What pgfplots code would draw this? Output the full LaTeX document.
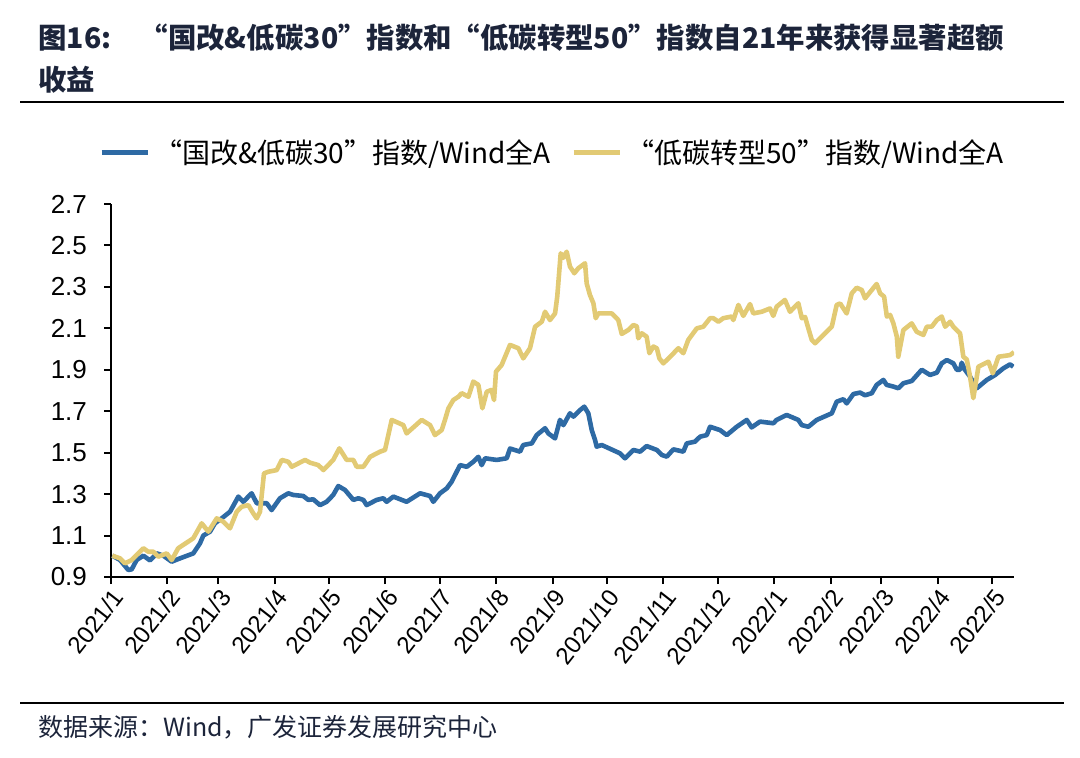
\documentclass[border=0pt]{standalone}
\usepackage{pgfplots}
\pgfplotsset{compat=1.18}
\usepackage{fontspec}
\setmainfont{Liberation Sans}
\newfontfamily\cjk{Noto Sans CJK SC}
\definecolor{seriesblue}{RGB}{46,106,164}
\definecolor{seriesgold}{RGB}{226,202,116}
\definecolor{titlenavy}{RGB}{28,36,58}

\begin{document}
\begin{tikzpicture}
\path[use as bounding box] (0,0) rectangle (540pt,378.5pt);
% title and rules
\node[anchor=west, inner sep=0, text=titlenavy, font=\cjk\bfseries\fontsize{14.2}{16}\selectfont] at (19pt,359.5pt)
  {图16:\hspace{1em}“国改\&低碳30”指数和“低碳转型50”指数自21年来获得显著超额};
\node[anchor=west, inner sep=0, text=titlenavy, font=\cjk\bfseries\fontsize{14.2}{16}\selectfont] at (19pt,338.5pt) {收益};
\draw[line width=1pt] (10pt,327.3pt) -- (532pt,327.3pt);
\draw[line width=1pt] (10pt,27pt) -- (532pt,27pt);
\node[anchor=west, inner sep=0, text=titlenavy, font=\cjk\fontsize{12.5}{14}\selectfont] at (19pt,15pt)
  {数据来源：Wind，广发证券发展研究中心};

\begin{axis}[
    at={(55.5pt,90pt)}, anchor=south west,
    scale only axis, width=451.5pt, height=186.5pt,
    xmin=0, xmax=497, ymin=0.9, ymax=2.7,
    axis x line*=bottom, axis y line*=left,
    axis line style={line width=1pt, -},
    tick align=outside, major tick length=3.5pt,
    tick style={line width=1pt, black},
    ytick={0.9,1.1,1.3,1.5,1.7,1.9,2.1,2.3,2.5,2.7},
    yticklabel style={/pgf/number format/fixed, /pgf/number format/fixed zerofill,
        /pgf/number format/precision=1, xshift=-5pt, font=\fontsize{13}{15}\selectfont},
    /pgf/number format/assume math mode=true,
    xtick={0,31,59,90,120,151,181,212,243,273,304,334,365,396,424,455,485},
    xticklabels={2021/1,2021/2,2021/3,2021/4,2021/5,2021/6,2021/7,2021/8,2021/9,2021/10,2021/11,2021/12,2022/1,2022/2,2022/3,2022/4,2022/5},
    xticklabel style={rotate=52, anchor=north east, inner sep=1pt, font=\fontsize{12}{14}\selectfont},
    legend style={at={(rel axis cs:0.49,1.137)}, anchor=center, draw=none, fill=none,
        legend columns=2, font=\cjk\fontsize{14}{16}\selectfont,
        /tikz/every even column/.append style={column sep=8pt}},
    legend image code/.code={\draw[#1, line width=2.5pt] (0pt,0pt) -- (23pt,0pt);},
]

\addplot[seriesblue, line width=2.3pt, line join=round, no markers] coordinates {
(0.7,1.003)(5.0,0.982)(9.5,0.934)(11.4,0.937)(14.1,0.982)(17.8,1.003)(21.5,0.980)(25.2,1.014)
(28.8,1.003)(33.4,0.974)(38.0,0.990)(45.3,1.014)(49.0,1.063)(50.8,1.100)(54.5,1.119)(57.2,1.159)
(60.9,1.183)(65.5,1.215)(70.1,1.288)(72.8,1.263)(77.4,1.304)(80.2,1.256)(85.7,1.256)(88.4,1.223)
(93.0,1.280)(97.6,1.304)(100.3,1.296)(105.8,1.291)(108.6,1.272)(111.3,1.275)(115.0,1.247)(118.7,1.263)
(122.3,1.296)(125.1,1.339)(128.8,1.320)(133.4,1.272)(136.1,1.280)(138.9,1.272)(140.7,1.247)(146.2,1.272)
(149.9,1.280)(151.7,1.263)(155.4,1.288)(162.7,1.263)(170.1,1.304)(175.6,1.291)(177.4,1.263)(181.1,1.304)
(184.8,1.328)(187.5,1.360)(192.1,1.440)(195.8,1.432)(199.4,1.456)(202.2,1.480)(204.0,1.440)(205.9,1.473)
(212.3,1.465)(217.8,1.473)(219.6,1.520)(225.1,1.505)(226.9,1.537)(231.6,1.545)(234.3,1.585)(238.9,1.618)
(240.7,1.593)(244.4,1.569)(247.1,1.658)(249.0,1.633)(252.6,1.690)(254.5,1.674)(258.2,1.706)(260.5,1.722)
(262.7,1.690)(264.6,1.609)(266.4,1.561)(267.3,1.529)(270.1,1.537)(280.1,1.497)(282.9,1.473)(287.5,1.513)
(291.2,1.505)(294.8,1.532)(300.4,1.513)(303.1,1.489)(305.9,1.481)(309.5,1.516)(315.0,1.505)(316.9,1.545)
(321.4,1.553)(324.2,1.577)(327.9,1.585)(329.7,1.625)(335.2,1.609)(338.9,1.585)(344.4,1.625)(349.9,1.658)
(352.6,1.622)(357.2,1.650)(364.5,1.642)(366.3,1.658)(371.9,1.682)(378.3,1.658)(380.2,1.633)(383.8,1.625)
(388.4,1.658)(396.7,1.690)(399.4,1.746)(403.1,1.758)(404.9,1.738)(408.6,1.783)(412.3,1.790)(415.0,1.777)
(418.7,1.787)(421.4,1.827)(425.1,1.851)(426.9,1.827)(430.6,1.819)(433.3,1.811)(436.1,1.835)(440.7,1.846)
(446.2,1.900)(450.8,1.875)(454.5,1.886)(457.2,1.931)(460.0,1.947)(463.6,1.931)(465.5,1.900)(467.3,1.900)
(468.2,1.934)(470.0,1.900)(472.8,1.867)(476.5,1.811)(482.0,1.851)(486.6,1.875)(491.1,1.907)(494.8,1.926)
(496.6,1.915)
};
\addlegendentry{“国改\&低碳30”指数/Wind全A}

\addplot[seriesgold, line width=2.3pt, line join=round, no markers] coordinates {
(0.7,1.003)(5.0,0.990)(7.7,0.966)(11.4,0.982)(17.8,1.039)(20.5,1.022)(23.3,1.022)(26.0,0.998)
(30.7,1.014)(33.4,0.982)(37.0,1.039)(45.3,1.087)(49.9,1.159)(53.6,1.119)(58.2,1.183)(61.8,1.167)
(65.5,1.135)(69.2,1.215)(71.9,1.239)(75.6,1.247)(78.3,1.207)(80.2,1.183)(82.0,1.215)(84.2,1.400)
(86.6,1.408)(91.2,1.416)(94.0,1.465)(97.6,1.456)(99.5,1.432)(106.8,1.465)(109.5,1.452)(114.1,1.440)
(116.9,1.416)(122.3,1.465)(125.7,1.521)(129.7,1.465)(133.4,1.465)(135.2,1.432)(138.9,1.432)(142.6,1.480)
(148.1,1.505)(150.8,1.513)(154.5,1.658)(160.9,1.633)(162.7,1.593)(171.0,1.658)(175.6,1.633)(178.3,1.585)
(182.0,1.609)(183.8,1.658)(185.7,1.714)(188.4,1.754)(191.2,1.770)(193.0,1.787)(196.7,1.770)(199.4,1.843)
(202.2,1.827)(204.4,1.714)(206.8,1.794)(209.5,1.803)(210.8,1.754)(211.9,1.891)(215.0,1.923)(219.6,2.020)
(224.2,2.004)(226.9,1.955)(230.6,2.004)(233.4,2.108)(237.1,2.132)(238.9,2.180)(241.6,2.140)(244.4,2.172)
(245.6,2.253)(247.5,2.462)(248.9,2.440)(250.8,2.470)(252.6,2.398)(255.0,2.366)(257.2,2.390)(260.9,2.414)
(261.8,2.317)(263.6,2.261)(265.5,2.221)(266.8,2.149)(268.2,2.172)(275.6,2.172)(279.2,2.140)(281.1,2.073)
(284.7,2.092)(287.5,2.116)(289.4,2.110)(290.2,2.052)(292.1,2.076)(294.8,2.060)(296.3,1.980)(298.5,2.012)
(300.4,2.004)(301.8,1.955)(304.0,1.931)(307.7,1.963)(310.4,1.987)(312.3,2.004)(315.0,1.980)(317.7,2.044)
(322.4,2.100)(326.0,2.108)(328.2,2.132)(329.7,2.149)(331.5,2.149)(334.3,2.132)(337.0,2.149)(341.6,2.157)
(342.5,2.140)(345.3,2.213)(348.0,2.160)(351.7,2.217)(353.5,2.172)(358.1,2.180)(362.7,2.196)(364.5,2.160)
(366.4,2.205)(370.9,2.237)(373.7,2.180)(378.3,2.221)(380.2,2.149)(382.0,2.155)(383.8,2.100)(385.7,2.044)
(387.5,2.028)(396.7,2.108)(399.4,2.213)(401.3,2.220)(404.9,2.172)(407.7,2.269)(410.4,2.296)(413.2,2.285)
(415.0,2.245)(418.7,2.285)(421.4,2.314)(423.3,2.269)(425.5,2.253)(427.0,2.157)(428.8,2.165)(430.6,2.124)
(432.5,2.060)(433.3,1.963)(436.1,2.092)(440.7,2.124)(443.4,2.084)(447.1,2.068)(449.0,2.108)(451.7,2.108)
(454.5,2.140)(457.2,2.157)(459.1,2.108)(461.8,2.132)(463.6,2.108)(467.3,2.076)(469.1,1.963)(471.0,1.950)
(472.8,1.867)(474.6,1.763)(477.4,1.915)(482.9,1.939)(485.3,1.883)(488.4,1.963)(494.8,1.971)(497.0,1.985)
};
\addlegendentry{“低碳转型50”指数/Wind全A}
\end{axis}
\end{tikzpicture}
\end{document}
